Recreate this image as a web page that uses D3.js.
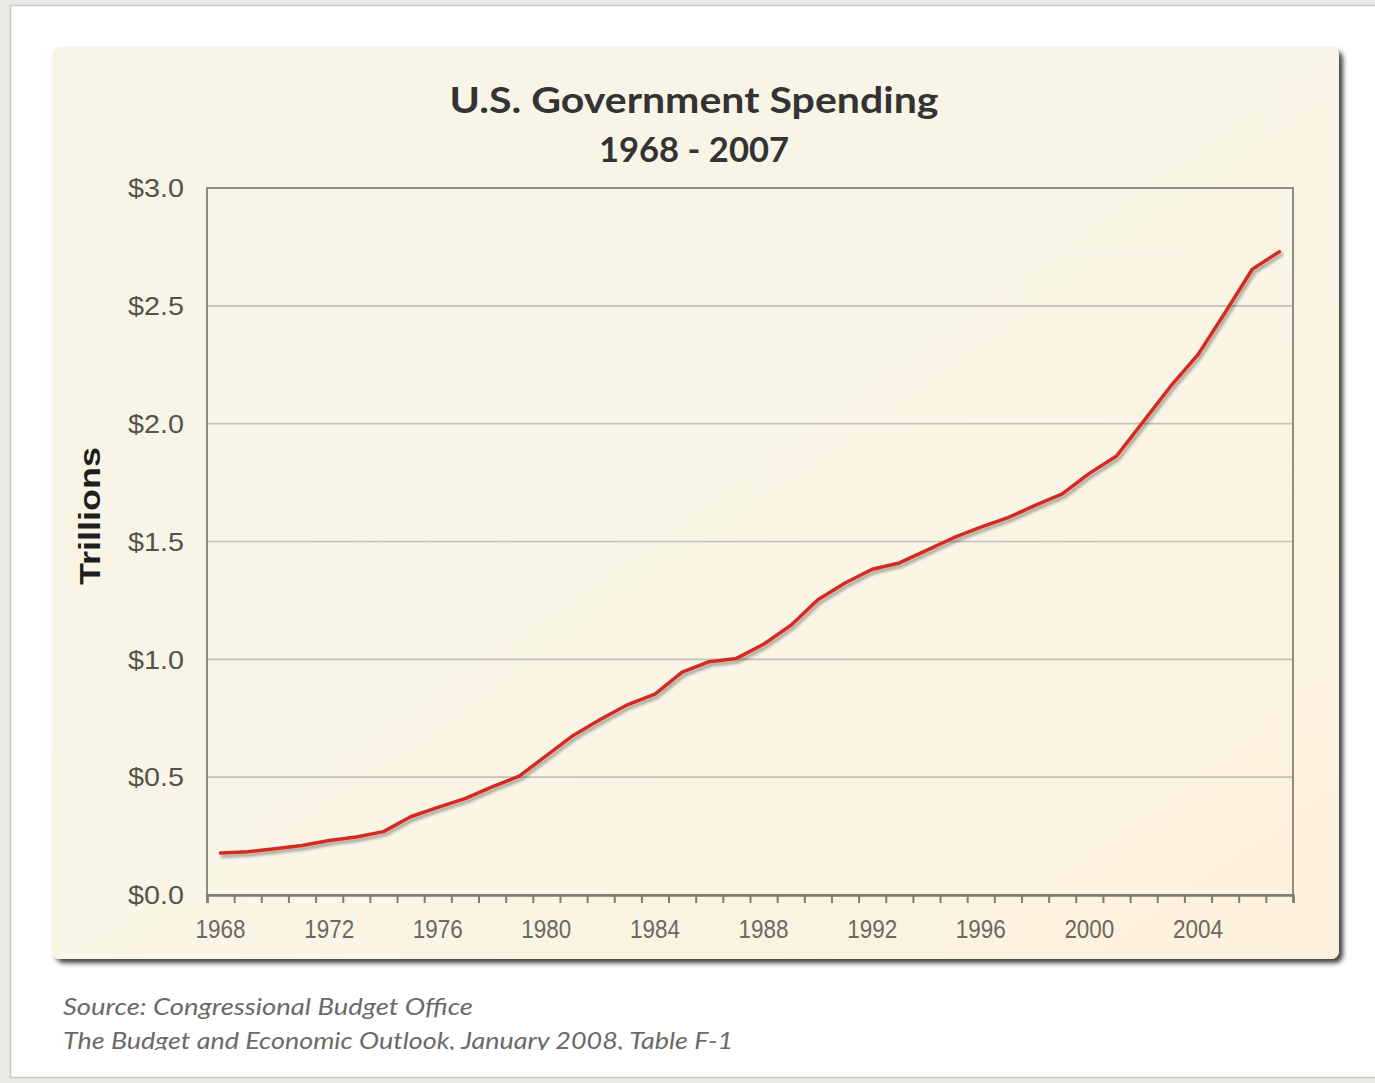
<!DOCTYPE html>
<html><head><meta charset="utf-8">
<script src="https://cdn.jsdelivr.net/npm/d3@7"></script>
<style>
html,body{margin:0;padding:0;background:#e9e9e4;overflow:hidden}
svg{display:block}
</style></head>
<body>
<svg id="chart" width="1375" height="1083"></svg>
<script>
const years = ["1968","1969","1970","1971","1972","1973","1974","1975","1976","1977",
  "1978","1979","1980","1981","1982","1983","1984","1985","1986","1987",
  "1988","1989","1990","1991","1992","1993","1994","1995","1996","1997",
  "1998","1999","2000","2001","2002","2003","2004","2005","2006","2007"];
// spending in trillions of dollars
const spending = [0.178,0.184,0.196,0.210,0.231,0.246,0.269,0.332,0.372,0.409,
  0.459,0.504,0.591,0.678,0.746,0.808,0.852,0.946,0.990,1.004,
  1.064,1.144,1.253,1.324,1.382,1.409,1.462,1.516,1.561,1.601,
  1.653,1.702,1.789,1.863,2.011,2.160,2.293,2.472,2.655,2.730];
const xTickLabels = ["1968","1972","1976","1980","1984","1988","1992","1996","2000","2004"];
const yTickValues = [0,0.5,1.0,1.5,2.0,2.5,3.0];
const yTickLabels = ["$0.0","$0.5","$1.0","$1.5","$2.0","$2.5","$3.0"];
const titleText = "U.S. Government Spending";
const subtitleText = "1968 - 2007";
const yAxisTitle = "Trillions";
const sourceLines = ["Source: Congressional Budget Office","The Budget and Economic Outlook, January 2008, Table F-1"];

const svg = d3.select("#chart");
const defs = svg.append("defs");

// panel gradient
const pg = defs.append("linearGradient").attr("id","panelGrad").attr("x1","0").attr("y1","0").attr("x2","1").attr("y2","1");
pg.append("stop").attr("offset","0").attr("stop-color","#f8f5e7");
pg.append("stop").attr("offset","0.6").attr("stop-color","#faf5e5");
pg.append("stop").attr("offset","1").attr("stop-color","#fdf1dc");

const sh = defs.append("filter").attr("id","panelShadow").attr("x","-5%").attr("y","-5%").attr("width","115%").attr("height","115%");
sh.append("feGaussianBlur").attr("in","SourceAlpha").attr("stdDeviation","2.5");
sh.append("feOffset").attr("dx","4").attr("dy","4").attr("result","b");
sh.append("feComponentTransfer").append("feFuncA").attr("type","linear").attr("slope","0.75");
const m1 = sh.append("feMerge"); m1.append("feMergeNode"); m1.append("feMergeNode").attr("in","SourceGraphic");

const ls = defs.append("filter").attr("id","lineShadow").attr("x","-5%").attr("y","-5%").attr("width","110%").attr("height","110%");
ls.append("feGaussianBlur").attr("in","SourceAlpha").attr("stdDeviation","1.5");
ls.append("feOffset").attr("dx","2").attr("dy","3").attr("result","o");
ls.append("feComponentTransfer").append("feFuncA").attr("type","linear").attr("slope","0.35");
const m2 = ls.append("feMerge"); m2.append("feMergeNode"); m2.append("feMergeNode").attr("in","SourceGraphic");

defs.append("clipPath").attr("id","srcClip").append("rect").attr("x",0).attr("y",0).attr("width",1375).attr("height",1050);

// outer page frame
svg.append("rect").attr("x",10.5).attr("y",5.5).attr("width",1380).attr("height",1072)
  .attr("fill","#ffffff").attr("stroke","#c9c9c2").attr("stroke-width",1.5);

// panel
svg.append("rect").attr("x",52).attr("y",47).attr("width",1287).attr("height",912).attr("rx",8)
  .attr("fill","url(#panelGrad)").attr("filter","url(#panelShadow)");

const margin = {left:207,right:1293,top:188,bottom:895};
const x = d3.scaleBand().domain(years).range([margin.left,margin.right]).padding(0);
const xb = d3.scaleLinear().domain([0,years.length]).range([margin.left,margin.right]);
const y = d3.scaleLinear().domain([0,3]).range([margin.bottom,margin.top]);

// gridlines
svg.append("g").selectAll("line").data(yTickValues.filter(v=>v>0 && v<3)).join("line")
  .attr("x1",margin.left).attr("x2",margin.right)
  .attr("y1",d=>y(d)).attr("y2",d=>y(d))
  .attr("stroke","#c4c0b4").attr("stroke-width",1.6);

// plot frame
svg.append("rect").attr("x",margin.left).attr("y",margin.top)
  .attr("width",margin.right-margin.left).attr("height",margin.bottom-margin.top)
  .attr("fill","none").attr("stroke","#8f8c82").attr("stroke-width",2);

// x ticks at category boundaries
const xTicksAxis = d3.axisBottom(xb).tickValues(d3.range(0,years.length+1)).tickSize(8).tickFormat("");
const gxt = svg.append("g").attr("transform",`translate(0,${margin.bottom})`).call(xTicksAxis);
gxt.select(".domain").attr("stroke","#7f7c73").attr("stroke-width",2.5);
gxt.selectAll(".tick line").attr("stroke","#7f7c73").attr("stroke-width",2);

// x labels
const xAxis = d3.axisBottom(x).tickValues(xTickLabels).tickSize(0).tickPadding(0);
const gx = svg.append("g").attr("transform",`translate(0,${margin.bottom})`).call(xAxis);
gx.select(".domain").remove();
gx.selectAll(".tick text").attr("y",43).attr("dy",0)
  .attr("font-family","'Liberation Sans Narrow','Liberation Sans',Arial,sans-serif")
  .attr("font-size",25).attr("fill","#6b6862")
  .attr("textLength",50).attr("lengthAdjust","spacingAndGlyphs");

// y labels
const yAxis = d3.axisLeft(y).tickValues(yTickValues).tickFormat((d,i)=>yTickLabels[i]).tickSize(0).tickPadding(0);
const gy = svg.append("g").attr("transform",`translate(184,0)`).call(yAxis);
gy.select(".domain").remove();
gy.selectAll(".tick text").attr("dy","0.35em")
  .attr("font-family","'Liberation Sans',Arial,sans-serif")
  .attr("font-size",25).attr("fill","#55524c")
  .attr("textLength",56).attr("lengthAdjust","spacingAndGlyphs");

// y axis title
svg.append("text").attr("transform","translate(100,516) rotate(-90)")
  .attr("text-anchor","middle")
  .attr("font-family","'Liberation Sans',Arial,sans-serif").attr("font-weight","bold")
  .attr("font-size",30).attr("fill","#1e1e1e")
  .attr("textLength",138).attr("lengthAdjust","spacingAndGlyphs")
  .text(yAxisTitle);

// title
svg.append("text").attr("x",694).attr("y",113).attr("text-anchor","middle")
  .attr("font-family","Lato,'Open Sans',sans-serif").attr("font-weight","bold")
  .attr("font-size",36).attr("fill","#333333")
  .attr("textLength",489).attr("lengthAdjust","spacingAndGlyphs")
  .text(titleText);
svg.append("text").attr("x",694).attr("y",162).attr("text-anchor","middle")
  .attr("font-family","Lato,'Open Sans',sans-serif").attr("font-weight","bold")
  .attr("font-size",34).attr("fill","#333333")
  .attr("textLength",190).attr("lengthAdjust","spacingAndGlyphs")
  .text(subtitleText);

// line
const line = d3.line().x((d,i)=>x(years[i])+x.bandwidth()/2).y(d=>y(d));
svg.append("path").datum(spending).attr("d",line)
  .attr("fill","none").attr("stroke","#d42a22").attr("stroke-width",3.5)
  .attr("stroke-linejoin","round").attr("stroke-linecap","round")
  .attr("filter","url(#lineShadow)");

// source
const src = svg.append("g").attr("clip-path","url(#srcClip)");
src.selectAll("text").data(sourceLines).join("text")
  .attr("x",63).attr("y",(d,i)=>1015+i*34)
  .attr("font-family","Lato,'Open Sans',sans-serif").attr("font-style","italic")
  .attr("font-size",23).attr("fill","#6a6a6a")
  .attr("textLength",(d,i)=>i===0?410:670).attr("lengthAdjust","spacingAndGlyphs")
  .text(d=>d);
</script>
</body></html>
